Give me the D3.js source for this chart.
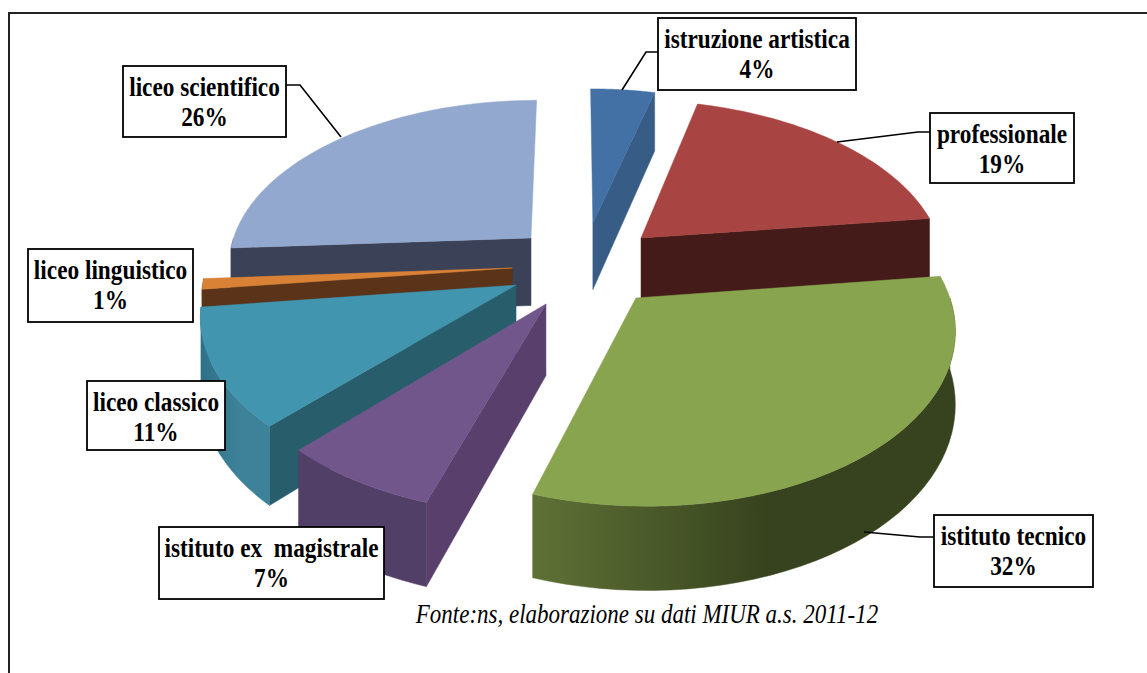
<!DOCTYPE html>
<html>
<head>
<meta charset="utf-8">
<script src="https://cdn.jsdelivr.net/npm/d3@7"></script>
<style>
  html, body { margin: 0; padding: 0; background: #fff; overflow: hidden; }
  text { font-family: "Liberation Serif", serif; white-space: pre; }
</style>
</head>
<body>
<svg></svg>
<script>
// Chart data
var categories = ["istruzione artistica", "professionale", "istituto tecnico",
    "istituto ex  magistrale", "liceo classico", "liceo linguistico", "liceo scientifico"]
var values = [4, 19, 32, 7, 11, 1, 26]
var source = "Fonte:ns, elaborazione su dati MIUR a.s. 2011-12"

// Slice colours: top face, cut face, outer wall left and right
var topColors = ["#4371a6", "#a84441", "#88a44e", "#71568b", "#4195ae", "#d98236", "#93a8cf"]
var cutColors = ["#375c85", "#451b19", "#39451f", "#583f6c", "#285d6b", "#5a3318", "#3b4156"]
var wallLeft = ["#375c85", "#451b19", "#5f7136", "#523f67", "#2f7087", "#5a3318", "#3b4156"]
var wallRight = ["#375c85", "#451b19", "#37431e", "#523f67", "#3d8299", "#5a3318", "#3b4156"]

// How far each slice is pulled out of the pie (unit radius)
var shiftU = [0.061, 0.222, 0.194, -0.092, -0.190, -0.205, -0.148]
var shiftV = [-0.245, -0.149, 0.211, 0.245, 0.137, 0.036, -0.149]

// Label boxes [x0, y0, x1, y1] and leader lines
var labelBoxes = [[658, 18, 856, 90], [930, 113, 1074, 183], [934, 515, 1093, 587],
    [159, 527, 384, 599], [87, 381, 225, 450], [28, 249, 193, 322], [123, 66, 286, 137]]
var leaders = [[[658, 52], [646, 52], [622, 90]], [[930, 132], [918, 132], [837, 142]],
    [[934, 537], [920, 537], [864, 532]], null, null, null,
    [[286, 85], [300, 85], [341, 137]]]

var width = 1147,
    height = 673

var svg = d3.select("svg")
    .attr("width", width)
    .attr("height", height)
    .style("display", "block")

// Simple perspective: things near the viewer (v > 0) come out bigger
var cx = 575, cy = 262, rx = 304, ry = 165, persp = 0.15, depth = 69

function project(u, v, drop) {
    var s = 1 / (1 - persp * v)
    return [cx + rx * u * s, cy + ry * v * s + (drop ? depth * s : 0)]
}

// point on slice i at radius r and pie angle a
function slicePoint(i, a, r, drop) {
    return project(shiftU[i] + r * Math.sin(a), shiftV[i] - r * Math.cos(a), drop)
}

function arcAngles(a0, a1) {
    return d3.range(0, 41).map(function(k) { return a0 + (a1 - a0) * k / 40 })
}

var line = d3.line()

var pie = d3.pie().sort(null).startAngle(0).endAngle(2 * Math.PI)
var slices = pie(values)

var defs = svg.append("defs")

// frame of the page
svg.append("path")
    .attr("d", line([[9, height], [9, 13], [width, 13]]))
    .attr("fill", "none")
    .attr("stroke", "#222")
    .attr("stroke-width", 2)

// back slices first, then the front ones
var drawOrder = [6, 5, 4, 3, 0, 1, 2]
var pieLayer = svg.append("g")

function poly(g, pts, fill) {
    g.append("path")
        .attr("d", line(pts) + "Z")
        .attr("fill", fill)
        .attr("stroke", fill)
        .attr("stroke-width", 0.5)
}

drawOrder.forEach(function(i) {
    var d = slices[i]
    var g = pieLayer.append("g")
    var a0 = d.startAngle, a1 = d.endAngle

    // cut face that looks towards the viewer
    var cutAngle = null
    if (Math.sin(a1) > 0.01 && a1 < Math.PI) cutAngle = a1
    if (Math.sin(a0) < -0.01) cutAngle = a0
    if (cutAngle !== null) {
        poly(g, [slicePoint(i, 0, 0, false), slicePoint(i, cutAngle, 1, false),
            slicePoint(i, cutAngle, 1, true), slicePoint(i, 0, 0, true)], cutColors[i])
    }

    // outer wall, front half of the rim only
    var w0 = Math.max(a0, Math.PI / 2), w1 = Math.min(a1, 1.5 * Math.PI)
    if (w1 > w0) {
        var angles = arcAngles(w0, w1)
        var upper = angles.map(function(a) { return slicePoint(i, a, 1, false) })
        var lower = angles.map(function(a) { return slicePoint(i, a, 1, true) }).reverse()
        var xs = d3.extent(upper, function(p) { return p[0] })
        var id = "wall" + i
        var grad = defs.append("linearGradient")
            .attr("id", id)
            .attr("gradientUnits", "userSpaceOnUse")
            .attr("x1", xs[0]).attr("x2", xs[1]).attr("y1", 0).attr("y2", 0)
        grad.append("stop").attr("offset", 0).attr("stop-color", wallLeft[i])
        grad.append("stop").attr("offset", 0.55).attr("stop-color", wallRight[i])
        grad.append("stop").attr("offset", 1).attr("stop-color", wallRight[i])
        poly(g, upper.concat(lower), "url(#" + id + ")")
    }

    // top face
    var top = [slicePoint(i, 0, 0, false)].concat(arcAngles(a0, a1).map(function(a) {
        return slicePoint(i, a, 1, false)
    }))
    poly(g, top, topColors[i])
})

// leader lines
svg.append("g").selectAll("path")
    .data(leaders.filter(function(d) { return d }))
    .enter().append("path")
    .attr("d", line)
    .attr("fill", "none")
    .attr("stroke", "#000")
    .attr("stroke-width", 1.6)

// label boxes
var labels = svg.append("g").selectAll("g")
    .data(categories)
    .enter().append("g")

labels.append("rect")
    .attr("x", function(d, i) { return labelBoxes[i][0] })
    .attr("y", function(d, i) { return labelBoxes[i][1] })
    .attr("width", function(d, i) { return labelBoxes[i][2] - labelBoxes[i][0] })
    .attr("height", function(d, i) { return labelBoxes[i][3] - labelBoxes[i][1] })
    .attr("fill", "#fff")
    .attr("stroke", "#000")
    .attr("stroke-width", 1.8)

function labelText(sel, dy, fn) {
    sel.append("text")
        .attr("transform", function(d, i) {
            var b = labelBoxes[i]
            return "translate(" + ((b[0] + b[2]) / 2) + "," + (b[1] + dy) + ") scale(1,1.15)"
        })
        .attr("text-anchor", "middle")
        .style("font-size", "23.3px")
        .style("font-weight", "bold")
        .text(fn)
}

labelText(labels, 30, function(d) { return d })
labelText(labels, 60, function(d, i) { return values[i] + "%" })

svg.append("text")
    .attr("transform", "translate(647,623) scale(1,1.15)")
    .attr("text-anchor", "middle")
    .style("font-size", "23px")
    .style("font-style", "italic")
    .text(source)
</script>
</body>
</html>
